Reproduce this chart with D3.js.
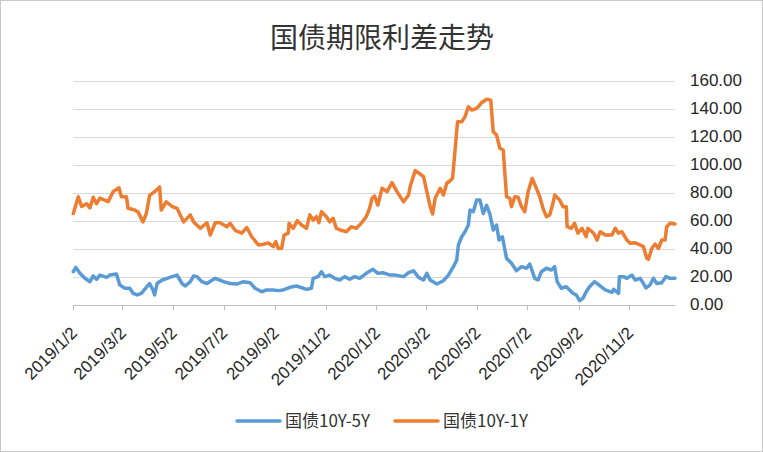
<!DOCTYPE html>
<html lang="zh">
<head>
<meta charset="UTF-8">
<title>国债期限利差走势</title>
<script src="https://d3js.org/d3.v7.min.js"></script>
<style>
  body { margin: 0; background: #fff; }
  svg { display: block; }
  .tick-label { font-family: "Liberation Sans", Arial, sans-serif; font-size: 17px; fill: #262626; }
  .cjk { font-family: "Noto Sans CJK SC", sans-serif; fill: #333; }
</style>
</head>
<body>
<svg id="chart" width="763" height="452"></svg>
<script>
// 国债10Y-5Y
const dates5Y = ["2019-01-02","2019-01-05","2019-01-10","2019-01-16","2019-01-22","2019-01-26","2019-01-30","2019-02-03","2019-02-11","2019-02-15","2019-02-23","2019-02-27","2019-03-05","2019-03-11","2019-03-15","2019-03-20","2019-03-25","2019-03-29","2019-04-04","2019-04-08","2019-04-10","2019-04-13","2019-04-19","2019-04-25","2019-05-01","2019-05-07","2019-05-13","2019-05-17","2019-05-23","2019-05-27","2019-05-31","2019-06-06","2019-06-12","2019-06-22","2019-07-02","2019-07-10","2019-07-18","2019-07-26","2019-08-03","2019-08-09","2019-08-17","2019-08-23","2019-08-31","2019-09-06","2019-09-12","2019-09-20","2019-09-28","2019-10-10","2019-10-16","2019-10-18","2019-10-24","2019-10-28","2019-11-01","2019-11-07","2019-11-13","2019-11-19","2019-11-25","2019-12-01","2019-12-07","2019-12-13","2019-12-21","2019-12-29","2020-01-04","2020-01-10","2020-01-19","2020-01-25","2020-02-04","2020-02-10","2020-02-16","2020-02-22","2020-02-28","2020-03-03","2020-03-07","2020-03-15","2020-03-23","2020-03-29","2020-04-04","2020-04-08","2020-04-10","2020-04-14","2020-04-18","2020-04-22","2020-04-24","2020-04-28","2020-05-02","2020-05-06","2020-05-10","2020-05-14","2020-05-18","2020-05-22","2020-05-26","2020-05-29","2020-06-02","2020-06-07","2020-06-13","2020-06-19","2020-06-25","2020-07-01","2020-07-05","2020-07-11","2020-07-15","2020-07-19","2020-07-25","2020-07-31","2020-08-04","2020-08-07","2020-08-12","2020-08-18","2020-08-22","2020-08-26","2020-08-30","2020-09-03","2020-09-07","2020-09-11","2020-09-15","2020-09-21","2020-09-28","2020-10-04","2020-10-12","2020-10-14","2020-10-20","2020-10-21","2020-10-26","2020-10-30","2020-11-05","2020-11-09","2020-11-15","2020-11-19","2020-11-22","2020-11-27","2020-12-01","2020-12-05","2020-12-11","2020-12-16","2020-12-21","2020-12-27"];
const values5Y = [23.4,26.5,22.3,18.7,16.3,20.4,18,21,19.4,21,21.8,14,11.6,11.6,8,6.8,8,10.8,15,10.4,6.8,15,17.5,18.7,19.9,21,15,13.2,16.3,20.4,19.9,16.3,15,18.7,16.3,15,14.6,16.3,15.6,11.6,9.1,10.4,10.4,9.9,10.4,12.3,13.2,10.8,11.6,18.7,19.9,23.4,19.9,21,18.7,17.5,19.9,18,19.9,18.7,22.3,25.1,22.3,22.7,21,21,19.9,22.7,24.1,19.4,17.5,22.3,17.5,14.6,17,21,27,31.8,42.5,48.4,52,56.8,67.5,66.3,74.6,74.6,65,70.8,64.5,53.2,56.8,46,48.4,33,29.4,24.1,27,25.9,28.9,18.7,17.5,23.4,25.9,24.6,27,16.3,11.6,12.7,10.4,8,6.8,2.7,4.4,9.1,12.7,16.3,13.2,10.4,8.7,10.8,8,19.9,19.9,18.7,21,17.5,18.7,15,11.8,14.1,18.7,15,15.6,19.9,18.7,18.7];

// 国债10Y-1Y
const dates1Y = ["2019-01-02","2019-01-08","2019-01-12","2019-01-18","2019-01-22","2019-01-26","2019-01-30","2019-02-03","2019-02-13","2019-02-19","2019-02-26","2019-03-01","2019-03-07","2019-03-09","2019-03-17","2019-03-21","2019-03-27","2019-03-31","2019-04-04","2019-04-10","2019-04-16","2019-04-18","2019-04-24","2019-05-01","2019-05-07","2019-05-15","2019-05-23","2019-05-27","2019-06-04","2019-06-12","2019-06-16","2019-06-22","2019-06-28","2019-07-06","2019-07-10","2019-07-16","2019-07-24","2019-07-30","2019-08-05","2019-08-13","2019-08-19","2019-08-25","2019-08-31","2019-09-03","2019-09-06","2019-09-10","2019-09-13","2019-09-18","2019-09-19","2019-09-24","2019-09-29","2019-10-04","2019-10-10","2019-10-14","2019-10-18","2019-10-22","2019-10-25","2019-10-28","2019-11-03","2019-11-07","2019-11-11","2019-11-15","2019-11-21","2019-11-27","2019-12-03","2019-12-09","2019-12-15","2019-12-21","2019-12-25","2019-12-28","2019-12-31","2020-01-04","2020-01-09","2020-01-15","2020-01-21","2020-01-27","2020-02-04","2020-02-10","2020-02-12","2020-02-18","2020-02-24","2020-02-28","2020-03-03","2020-03-07","2020-03-10","2020-03-13","2020-03-19","2020-03-23","2020-03-27","2020-03-31","2020-04-03","2020-04-06","2020-04-09","2020-04-14","2020-04-18","2020-04-22","2020-04-26","2020-05-02","2020-05-08","2020-05-14","2020-05-19","2020-05-22","2020-05-26","2020-05-30","2020-06-03","2020-06-07","2020-06-11","2020-06-13","2020-06-17","2020-06-21","2020-06-25","2020-06-29","2020-07-03","2020-07-08","2020-07-13","2020-07-17","2020-07-21","2020-07-25","2020-07-29","2020-08-02","2020-08-04","2020-08-10","2020-08-14","2020-08-18","2020-08-19","2020-08-24","2020-08-28","2020-09-01","2020-09-06","2020-09-11","2020-09-13","2020-09-20","2020-09-24","2020-09-28","2020-10-04","2020-10-12","2020-10-16","2020-10-20","2020-10-24","2020-10-30","2020-11-03","2020-11-09","2020-11-15","2020-11-19","2020-11-23","2020-11-25","2020-11-29","2020-12-03","2020-12-07","2020-12-11","2020-12-15","2020-12-17","2020-12-21","2020-12-27"];
const values1Y = [65,77,70,72,69,76.6,72,76,73.5,80.6,83.4,77,77,68.7,67.5,66,59,65,78,80.6,84,67.5,73.4,70,68.7,59,64,59,54.4,58.4,49.6,58.4,58.4,55.6,58,53,51,55,48.4,42.5,43,44,41.3,44.9,40,40,49.6,51,58,54.4,59.9,56.8,54.4,64,60.4,62.7,58.4,66.3,62.7,59,61.6,54.4,53,52,55.6,54.4,58,62.7,68.7,75.9,77.5,71,83,80.6,87,80.6,73.4,78.2,84.6,95.6,93.2,91.3,80.6,69.9,64.6,75.9,83,78.2,86.6,88.4,90.1,110.4,130.6,130.6,134.1,141.3,138.9,140.1,144.1,146.6,146,123.4,121,111.6,110.4,77,75.9,69.9,77,76.6,69.9,66.3,80.6,90.1,83,77,68.7,62.7,64,72.3,78.2,74.6,69.9,69.9,55.6,54.4,58,50.9,54.4,48.4,54.4,50.9,46,52,49.6,49.6,54.4,50.9,52,46,43.7,44.1,42.5,41.3,33,32.3,40,43.2,40,46,46,55.6,58,57.5];

const xTickLabels = ["2019/1/2","2019/3/2","2019/5/2","2019/7/2","2019/9/2","2019/11/2","2020/1/2","2020/3/2","2020/5/2","2020/7/2","2020/9/2","2020/11/2"];
const yTicks = [0, 20, 40, 60, 80, 100, 120, 140, 160];
const seriesNames = ["国债10Y-5Y", "国债10Y-1Y"];
const seriesColors = ["#5B9BD5", "#ED7D31"];

const svg = d3.select("#chart");
const W = 763, H = 452;
const plot = { left: 73.3, right: 675, top: 80.5, bottom: 304.5 };

const parseIso = d3.timeParse("%Y-%m-%d");
const parseSlash = d3.timeParse("%Y/%m/%d");

// chart border
svg.append("rect")
  .attr("x", 0.5).attr("y", 0.5)
  .attr("width", W - 1).attr("height", H - 1)
  .attr("fill", "#fff").attr("stroke", "#c8c8c8");

const x = d3.scaleTime()
  .domain([parseIso("2019-01-02"), parseIso("2020-12-27")])
  .range([plot.left, plot.right]);
const y = d3.scaleLinear().domain([0, 160]).range([plot.bottom, plot.top]);

// grid lines
svg.append("g").selectAll("line")
  .data(yTicks.filter(d => d > 0))
  .enter().append("line")
  .attr("x1", plot.left).attr("x2", plot.right)
  .attr("y1", d => Math.round(y(d)) + 0.5).attr("y2", d => Math.round(y(d)) + 0.5)
  .attr("stroke", "#d9d9d9").attr("stroke-width", 1);

// y labels on the right
svg.append("g").selectAll("text")
  .data(yTicks)
  .enter().append("text")
  .attr("class", "tick-label")
  .attr("x", 690)
  .attr("y", d => y(d))
  .attr("dy", "0.35em")
  .text(d => d.toFixed(2));

// x axis
const xTicks = xTickLabels.map(parseSlash);
const axisY = Math.round(plot.bottom) + 0.5;
svg.append("line")
  .attr("x1", plot.left).attr("x2", plot.right)
  .attr("y1", axisY).attr("y2", axisY)
  .attr("stroke", "#bfbfbf");
svg.append("g").selectAll("line")
  .data(xTicks)
  .enter().append("line")
  .attr("x1", d => Math.round(x(d)) + 0.5).attr("x2", d => Math.round(x(d)) + 0.5)
  .attr("y1", axisY).attr("y2", axisY + 5)
  .attr("stroke", "#bfbfbf");
svg.append("g").selectAll("text")
  .data(xTicks)
  .enter().append("text")
  .attr("class", "tick-label")
  .attr("text-anchor", "end")
  .attr("transform", d => `translate(${x(d) + 5},334) rotate(-45)`)
  .text((d, i) => xTickLabels[i]);

// lines
const line = d3.line()
  .x(d => x(d[0]))
  .y(d => y(d[1]));

const series = [
  dates5Y.map((d, i) => [parseIso(d), values5Y[i]]),
  dates1Y.map((d, i) => [parseIso(d), values1Y[i]])
];
series.forEach((s, i) => {
  svg.append("path")
    .datum(s)
    .attr("fill", "none")
    .attr("stroke", seriesColors[i])
    .attr("stroke-width", 3.5)
    .attr("stroke-linejoin", "round")
    .attr("stroke-linecap", "round")
    .attr("d", line);
});

// title
svg.append("text")
  .attr("class", "cjk")
  .attr("x", 382).attr("y", 48)
  .attr("text-anchor", "middle")
  .style("font-size", "28px")
  .text("国债期限利差走势");

// legend
const legendX = [237, 395];
seriesNames.forEach((name, i) => {
  svg.append("line")
    .attr("x1", legendX[i]).attr("x2", legendX[i] + 43)
    .attr("y1", 421).attr("y2", 421)
    .attr("stroke", seriesColors[i]).attr("stroke-width", 3.5)
    .attr("stroke-linecap", "round");
  svg.append("text")
    .attr("class", "cjk")
    .attr("x", legendX[i] + 48).attr("y", 427)
    .style("font-size", "17px")
    .text(name);
});
</script>
</body>
</html>
